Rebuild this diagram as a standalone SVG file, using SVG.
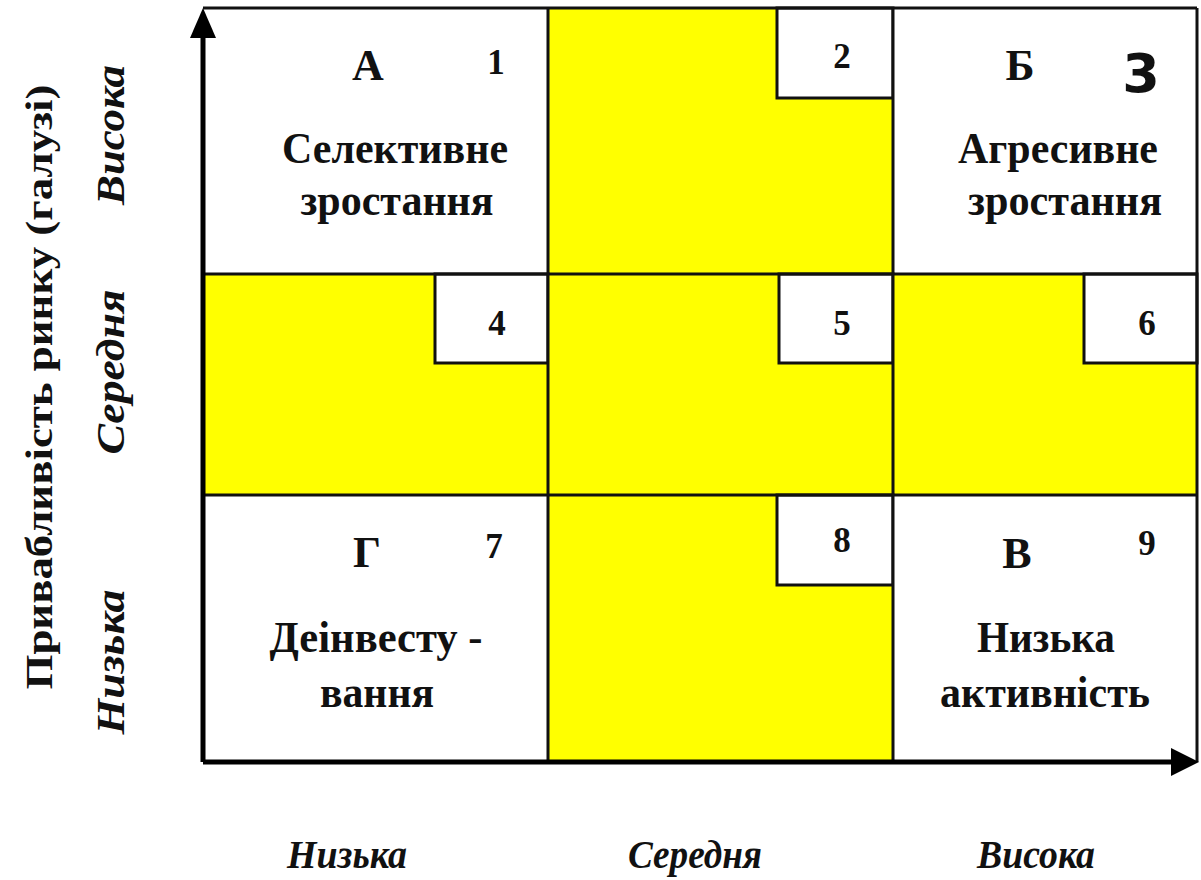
<svg xmlns="http://www.w3.org/2000/svg" width="1201" height="880" viewBox="0 0 1201 880">
  <style>
    .bg { fill: #ffffff; }
    .yel { fill: #ffff00; }
    .cellbox { fill: #ffffff; stroke: #111111; stroke-width: 3; }
    .grid { stroke: #111111; stroke-width: 3; fill: none; }
    .axis { stroke: #000000; stroke-width: 5; fill: none; }
    .head { fill: #000000; }
    .lbl { font-family: "Liberation Serif", "Times New Roman", serif; font-weight: bold; fill: #111111; text-anchor: middle; }
    .big { font-size: 44px; }
    .num { font-size: 35px; }
    .ax { font-family: "Liberation Serif", "Times New Roman", serif; font-weight: bold; font-style: italic; font-size: 40px; fill: #111111; text-anchor: middle; }
    .title { font-family: "Liberation Serif", "Times New Roman", serif; font-weight: bold; font-size: 38px; fill: #111111; text-anchor: middle; }
  </style>

  <rect class="bg" x="0" y="0" width="1201" height="880"/>

  <!-- Row 1 -->
  <g id="cell-1">
    <rect x="203" y="8" width="345" height="266" fill="#ffffff"/>
    <text class="lbl big" x="368" y="80">А</text>
    <text class="lbl num" x="496" y="74">1</text>
    <text class="lbl big" x="395" y="163" textLength="226" lengthAdjust="spacingAndGlyphs">Селективне</text>
    <text class="lbl big" x="397" y="215" textLength="193" lengthAdjust="spacingAndGlyphs">зростання</text>
  </g>
  <g id="cell-2">
    <rect class="yel" x="548" y="8" width="345" height="266"/>
    <rect class="cellbox" x="777" y="8" width="116" height="90"/>
    <text class="lbl num" x="842" y="68">2</text>
  </g>
  <g id="cell-3">
    <rect x="893" y="8" width="304" height="266" fill="#ffffff"/>
    <text class="lbl big" x="1020" y="80">Б</text>
    <text x="1141" y="92" font-family="DejaVu Sans, sans-serif" font-weight="bold" font-size="54" fill="#111111" text-anchor="middle">3</text>
    <text class="lbl big" x="1058" y="163" textLength="200" lengthAdjust="spacingAndGlyphs">Агресивне</text>
    <text class="lbl big" x="1065" y="215" textLength="194" lengthAdjust="spacingAndGlyphs">зростання</text>
  </g>

  <!-- Row 2 -->
  <g id="cell-4">
    <rect class="yel" x="203" y="274" width="345" height="221"/>
    <rect class="cellbox" x="435" y="274" width="113" height="89"/>
    <text class="lbl num" x="497" y="335">4</text>
  </g>
  <g id="cell-5">
    <rect class="yel" x="548" y="274" width="345" height="221"/>
    <rect class="cellbox" x="779" y="274" width="114" height="89"/>
    <text class="lbl num" x="842" y="335">5</text>
  </g>
  <g id="cell-6">
    <rect class="yel" x="893" y="274" width="304" height="221"/>
    <rect class="cellbox" x="1084" y="274" width="113" height="89"/>
    <text class="lbl num" x="1147" y="335">6</text>
  </g>

  <!-- Row 3 -->
  <g id="cell-7">
    <rect x="203" y="495" width="345" height="267" fill="#ffffff"/>
    <text class="lbl big" x="367" y="567">Г</text>
    <text class="lbl num" x="494" y="558">7</text>
    <text class="lbl big" x="376" y="652" textLength="213" lengthAdjust="spacingAndGlyphs">Деінвесту -</text>
    <text class="lbl big" x="377" y="707" textLength="114" lengthAdjust="spacingAndGlyphs">вання</text>
  </g>
  <g id="cell-8">
    <rect class="yel" x="548" y="495" width="345" height="267"/>
    <rect class="cellbox" x="777" y="495" width="116" height="90"/>
    <text class="lbl num" x="842" y="552">8</text>
  </g>
  <g id="cell-9">
    <rect x="893" y="495" width="304" height="267" fill="#ffffff"/>
    <text class="lbl big" x="1017" y="568">В</text>
    <text class="lbl num" x="1147" y="555">9</text>
    <text class="lbl big" x="1046" y="652" textLength="138" lengthAdjust="spacingAndGlyphs">Низька</text>
    <text class="lbl big" x="1045" y="707" textLength="210" lengthAdjust="spacingAndGlyphs">активність</text>
  </g>

  <!-- Grid lines -->
  <g id="grid">
    <line class="grid" x1="203" y1="8" x2="1197" y2="8"/>
    <line class="grid" x1="1197" y1="8" x2="1197" y2="762"/>
    <line class="grid" x1="203" y1="274" x2="1197" y2="274"/>
    <line class="grid" x1="203" y1="495" x2="1197" y2="495"/>
    <line class="grid" x1="548" y1="8" x2="548" y2="762"/>
    <line class="grid" x1="893" y1="8" x2="893" y2="762"/>
  </g>

  <!-- Axes -->
  <g id="connectors">
    <line class="axis" x1="203" y1="762" x2="203" y2="30"/>
    <polygon class="head" points="203,8 190,38 216,38"/>
    <line class="axis" x1="203" y1="762" x2="1176" y2="762"/>
    <polygon class="head" points="1199,762 1171,748 1171,776"/>
  </g>

  <!-- Axis labels -->
  <g id="y-labels">
    <text class="title" transform="translate(52,387) rotate(-90)" textLength="605" lengthAdjust="spacingAndGlyphs">Привабливість ринку (галузі)</text>
    <text class="ax" transform="translate(124,135) rotate(-90)" textLength="140" lengthAdjust="spacingAndGlyphs">Висока</text>
    <text class="ax" transform="translate(124,372) rotate(-90)" textLength="165" lengthAdjust="spacingAndGlyphs">Середня</text>
    <text class="ax" transform="translate(124,662) rotate(-90)" textLength="145" lengthAdjust="spacingAndGlyphs">Низька</text>
  </g>
  <g id="x-labels">
    <text class="ax" x="347" y="868" textLength="120" lengthAdjust="spacingAndGlyphs">Низька</text>
    <text class="ax" x="695" y="868" textLength="134" lengthAdjust="spacingAndGlyphs">Середня</text>
    <text class="ax" x="1036" y="868" textLength="118" lengthAdjust="spacingAndGlyphs">Висока</text>
  </g>
</svg>
